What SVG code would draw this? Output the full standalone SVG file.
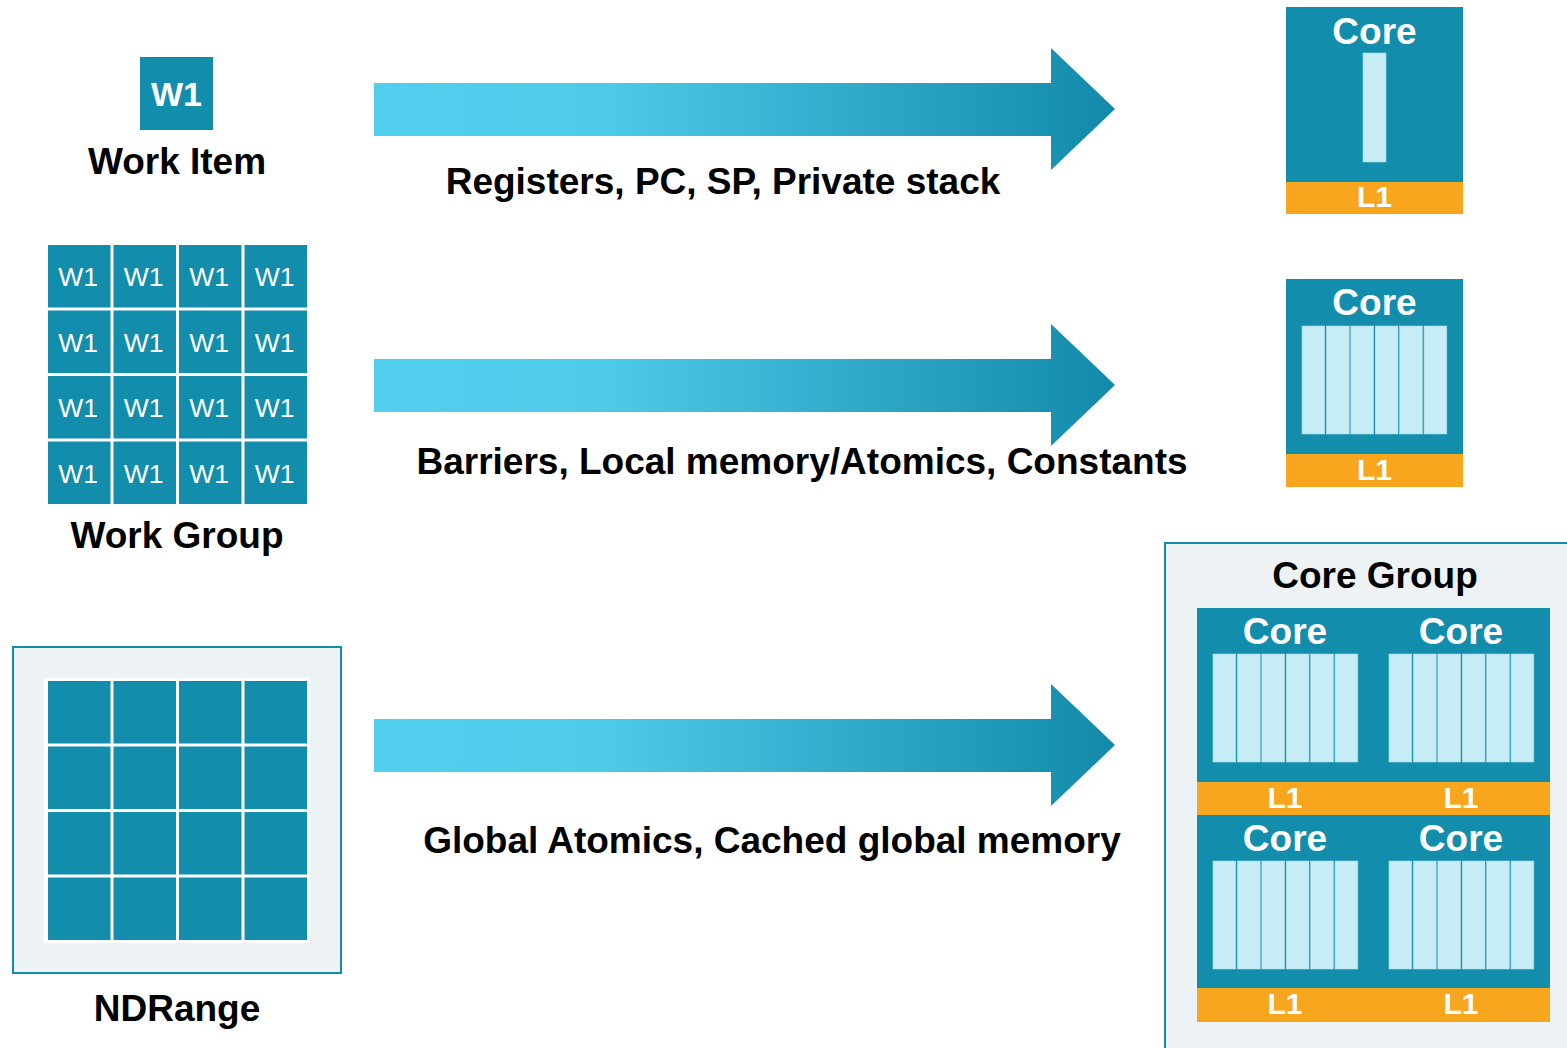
<svg xmlns="http://www.w3.org/2000/svg" width="1567" height="1048" viewBox="0 0 1567 1048">
  <defs>
    <linearGradient id="arrowGrad" x1="0" y1="0" x2="1" y2="0">
      <stop offset="0" stop-color="#52cfee"/>
      <stop offset="0.3" stop-color="#4fcbea"/>
      <stop offset="1" stop-color="#1289a9"/>
    </linearGradient>
    <!-- six SIMD lanes, 145 wide, 108 tall -->
    <g id="lanes">
      <rect class="lane" x="0" y="0" width="22.8" height="108"/>
      <rect class="lane" x="24.4" y="0" width="22.8" height="108"/>
      <rect class="lane" x="48.8" y="0" width="22.8" height="108"/>
      <rect class="lane" x="73.2" y="0" width="22.8" height="108"/>
      <rect class="lane" x="97.6" y="0" width="22.8" height="108"/>
      <rect class="lane" x="122" y="0" width="22.8" height="108"/>
    </g>
    <path id="arrowShape" d="M0,35 H677 V0 L741,61 L677,122 V88 H0 Z"/>
  </defs>
  <style>
    text { font-family: "Liberation Sans", Arial, sans-serif; text-anchor: middle; }
    .label { font-weight: bold; font-size: 37px; fill: #000; }
    .core-t { font-weight: bold; font-size: 37px; fill: #fff; }
    .l1-t { font-weight: bold; font-size: 30px; fill: #fff; }
    .wi { font-size: 26.5px; fill: #fff; }
    .teal { fill: #128dab; }
    .cache { fill: #f7a61e; }
    .lane { fill: #c6edf6; stroke: #a9dbe8; stroke-width: 0.6; }
    .frame { fill: #edf2f5; stroke: #128dab; stroke-width: 2; }
  </style>

  <rect width="1567" height="1048" fill="#fff"/>

  <!-- Work item -->
  <g id="work-item">
    <rect class="teal" x="140" y="57" width="73" height="73"/>
    <text x="176.5" y="106" style="font-weight:bold;font-size:34px;fill:#fff">W1</text>
    <text class="label" x="177" y="174">Work Item</text>
  </g>

  <!-- Work group: 4x4 work items -->
  <g id="work-group">
    <g class="teal">
      <rect x="48" y="245" width="62.5" height="62.5"/><rect x="113.5" y="245" width="62.5" height="62.5"/><rect x="179" y="245" width="62.5" height="62.5"/><rect x="244.5" y="245" width="62.5" height="62.5"/>
      <rect x="48" y="310.5" width="62.5" height="62.5"/><rect x="113.5" y="310.5" width="62.5" height="62.5"/><rect x="179" y="310.5" width="62.5" height="62.5"/><rect x="244.5" y="310.5" width="62.5" height="62.5"/>
      <rect x="48" y="376" width="62.5" height="62.5"/><rect x="113.5" y="376" width="62.5" height="62.5"/><rect x="179" y="376" width="62.5" height="62.5"/><rect x="244.5" y="376" width="62.5" height="62.5"/>
      <rect x="48" y="441.5" width="62.5" height="62.5"/><rect x="113.5" y="441.5" width="62.5" height="62.5"/><rect x="179" y="441.5" width="62.5" height="62.5"/><rect x="244.5" y="441.5" width="62.5" height="62.5"/>
    </g>
    <g class="wi">
      <text x="78" y="286">W1</text><text x="143.5" y="286">W1</text><text x="209" y="286">W1</text><text x="274.5" y="286">W1</text>
      <text x="78" y="351.5">W1</text><text x="143.5" y="351.5">W1</text><text x="209" y="351.5">W1</text><text x="274.5" y="351.5">W1</text>
      <text x="78" y="417">W1</text><text x="143.5" y="417">W1</text><text x="209" y="417">W1</text><text x="274.5" y="417">W1</text>
      <text x="78" y="482.5">W1</text><text x="143.5" y="482.5">W1</text><text x="209" y="482.5">W1</text><text x="274.5" y="482.5">W1</text>
    </g>
    <text class="label" x="177" y="548">Work Group</text>
  </g>

  <!-- NDRange -->
  <g id="ndrange">
    <rect class="frame" x="13" y="647" width="328" height="326"/>
    <rect x="44" y="678" width="266" height="265" fill="#fff"/>
    <g class="teal">
      <rect x="48" y="681" width="62.5" height="62.5"/><rect x="113.5" y="681" width="62.5" height="62.5"/><rect x="179" y="681" width="62.5" height="62.5"/><rect x="244.5" y="681" width="62.5" height="62.5"/>
      <rect x="48" y="746.5" width="62.5" height="62.5"/><rect x="113.5" y="746.5" width="62.5" height="62.5"/><rect x="179" y="746.5" width="62.5" height="62.5"/><rect x="244.5" y="746.5" width="62.5" height="62.5"/>
      <rect x="48" y="812" width="62.5" height="62.5"/><rect x="113.5" y="812" width="62.5" height="62.5"/><rect x="179" y="812" width="62.5" height="62.5"/><rect x="244.5" y="812" width="62.5" height="62.5"/>
      <rect x="48" y="877.5" width="62.5" height="62.5"/><rect x="113.5" y="877.5" width="62.5" height="62.5"/><rect x="179" y="877.5" width="62.5" height="62.5"/><rect x="244.5" y="877.5" width="62.5" height="62.5"/>
    </g>
    <text class="label" x="177" y="1021">NDRange</text>
  </g>

  <!-- Single-lane core -->
  <g id="core-single">
    <rect class="teal" x="1286" y="7" width="177" height="175"/>
    <rect class="cache" x="1286" y="182" width="177" height="32"/>
    <rect class="lane" x="1363" y="53" width="23" height="109"/>
    <text class="core-t" x="1374.5" y="44">Core</text>
    <text class="l1-t" x="1374.5" y="207">L1</text>
  </g>

  <!-- SIMD core -->
  <g id="core-simd">
    <rect class="teal" x="1286" y="279" width="177" height="175"/>
    <rect class="cache" x="1286" y="454" width="177" height="33"/>
    <use href="#lanes" x="1302" y="326"/>
    <text class="core-t" x="1374.5" y="315">Core</text>
    <text class="l1-t" x="1374.5" y="480">L1</text>
  </g>

  <!-- Core group: 2x2 SIMD cores -->
  <g id="core-group">
    <rect class="frame" x="1165" y="543" width="410" height="515"/>
    <text class="label" x="1375" y="588">Core Group</text>
    <rect class="teal" x="1197" y="608" width="353" height="174"/>
    <rect class="cache" x="1197" y="782" width="353" height="33"/>
    <rect class="teal" x="1197" y="815" width="353" height="173"/>
    <rect class="cache" x="1197" y="988" width="353" height="34"/>
    <use href="#lanes" x="1213" y="654"/>
    <use href="#lanes" x="1389" y="654"/>
    <use href="#lanes" x="1213" y="861"/>
    <use href="#lanes" x="1389" y="861"/>
    <text class="core-t" x="1285" y="644">Core</text>
    <text class="core-t" x="1461" y="644">Core</text>
    <text class="core-t" x="1285" y="851">Core</text>
    <text class="core-t" x="1461" y="851">Core</text>
    <text class="l1-t" x="1285" y="808">L1</text>
    <text class="l1-t" x="1461" y="808">L1</text>
    <text class="l1-t" x="1285" y="1014">L1</text>
    <text class="l1-t" x="1461" y="1014">L1</text>
  </g>

  <!-- Mapping arrows -->
  <g id="connectors">
    <use href="#arrowShape" x="374" y="48" fill="url(#arrowGrad)"/>
    <use href="#arrowShape" x="374" y="324" fill="url(#arrowGrad)"/>
    <use href="#arrowShape" x="374" y="684" fill="url(#arrowGrad)"/>
    <text class="label" x="723" y="194">Registers, PC, SP, Private stack</text>
    <text class="label" x="802" y="474">Barriers, Local memory/Atomics, Constants</text>
    <text class="label" x="772" y="853">Global Atomics, Cached global memory</text>
  </g>
</svg>
